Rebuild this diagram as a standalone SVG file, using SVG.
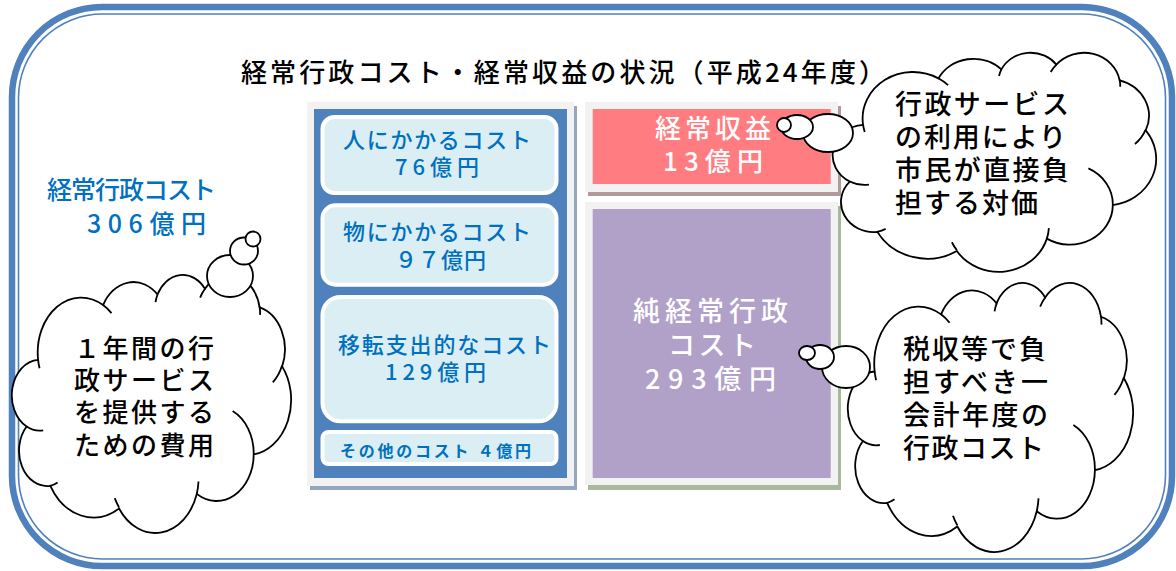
<svg xmlns="http://www.w3.org/2000/svg" width="1176" height="571" viewBox="0 0 1176 571">
<style>
text { font-family: "Noto Sans CJK JP", "Noto Sans", sans-serif; font-weight: 500; }
.blue { fill: #0070C0; font-size: 22px; }
.wht { fill: #FFFFFF; font-size: 27px; }
.blk { fill: #000000; font-size: 26px; }
.cloud { fill: #FFFFFF; stroke: #000000; stroke-width: 1.8; vector-effect: non-scaling-stroke; }
.crease { fill: none; stroke: #000000; stroke-width: 1.8; vector-effect: non-scaling-stroke; }
.bub { fill: #FFFFFF; stroke: #000000; stroke-width: 1.8; }
.lbox { fill: #DAEEF3; stroke: #FFFFFF; stroke-width: 4; }
.gray { fill: #F2F2F2; }
</style>
<defs>
<path id="cloudBody" class="cloud" d="M3900 14370 A6753 9190 0 0 1 14005 5202 A5333 7267 0 0 1 22458 3435 A4365 5945 0 0 1 29835 2485 A4857 6595 0 0 1 38320 5580 A5333 7273 0 0 1 41820 15464 A6775 9220 0 0 1 37406 30207 A5785 7867 0 0 1 28557 36817 A6752 9215 0 0 1 16481 39268 A7720 10543 0 0 1 5805 35471 A4360 5918 0 0 1 2114 25549 A4345 5945 0 0 1 3900 14370 Z"/>
<path id="cloudCrease" class="crease" d="M4693 26177 A4345 5945 0 0 1 2114 25549 M6928 34899 A4360 5918 0 0 1 5805 35471 M16478 39090 A6752 9215 0 0 1 15814 37529 M28827 34751 A6752 9215 0 0 1 28557 36817 M34129 22954 A5785 7867 0 0 1 37406 30207 M41798 15354 A5333 7273 0 0 1 40372 18140 M38324 5426 A4857 6595 0 0 1 38396 6844 M29078 3952 A4857 6595 0 0 1 29835 2485 M22141 4720 A4365 5945 0 0 1 22458 3435 M14000 5192 A6753 9190 0 0 1 15305 6550 M4127 15789 A6753 9190 0 0 1 3900 14370"/>
</defs>
<rect x="0" y="0" width="1176" height="571" fill="#FFFFFF"/>
<g id="frame">
<rect x="12" y="7" width="1160" height="559" rx="90" fill="#FFFFFF" stroke="#4F81BD" stroke-width="6.5"/>
<rect x="18.5" y="14" width="1147" height="545" rx="84" fill="none" stroke="#4F81BD" stroke-width="1.6"/>
</g>
<g id="title">
<text class="blk" x="241" y="82" textLength="644" lengthAdjust="spacing">経常行政コスト・経常収益の状況（平成24年度）</text>
</g>
<g id="total-cost">
<text class="blue" style="font-size:25px"><tspan x="47" y="199" textLength="169" lengthAdjust="spacing">経常行政コスト</tspan><tspan x="87" y="233" textLength="119" lengthAdjust="spacing">306億円</tspan></text>
</g>
<g id="cost-panel">
<rect x="310" y="106" width="267" height="384" fill="#95A7BF"/>
<rect class="gray" x="307" y="102" width="267" height="384"/>
<rect x="314" y="109" width="253" height="369" fill="#4F81BD"/>
<g id="personnel-cost">
<rect class="lbox" x="322.5" y="117" width="234" height="76" rx="12"/>
<text class="blue"><tspan x="343" y="148" textLength="188" lengthAdjust="spacing">人にかかるコスト</tspan><tspan x="395" y="175" textLength="84" lengthAdjust="spacing">76億円</tspan></text>
</g>
<g id="goods-cost">
<rect class="lbox" x="322.5" y="205.3" width="234" height="79.4" rx="13"/>
<text class="blue"><tspan x="343" y="240" textLength="188" lengthAdjust="spacing">物にかかるコスト</tspan><tspan x="395" y="268" textLength="91" lengthAdjust="spacing">９７億円</tspan></text>
</g>
<g id="transfer-cost">
<rect class="lbox" x="322.5" y="297" width="234" height="124.3" rx="18"/>
<text class="blue"><tspan x="338" y="353" textLength="213" lengthAdjust="spacing">移転支出的なコスト</tspan><tspan x="385" y="380" textLength="101" lengthAdjust="spacing">129億円</tspan></text>
</g>
<g id="other-cost">
<rect class="lbox" x="322.5" y="432" width="234" height="32" rx="6"/>
<text class="blue" x="340" y="457" style="font-size:16px;font-weight:bold" textLength="191" lengthAdjust="spacing">その他のコスト ４億円</text>
</g>
</g>
<g id="revenue">
<rect x="588" y="106" width="253" height="90" fill="#B39A9A"/>
<rect class="gray" x="585" y="102" width="253" height="90"/>
<rect x="592.7" y="109" width="238" height="75" fill="#FF7C80"/>
<text class="wht" style="font-size:26px"><tspan x="655" y="138" textLength="116" lengthAdjust="spacing">経常収益</tspan><tspan x="663" y="171" textLength="100" lengthAdjust="spacing">13億円</tspan></text>
</g>
<g id="net-cost">
<rect x="588" y="206" width="253" height="284" fill="#A9B79A"/>
<rect class="gray" x="585" y="202" width="253" height="283"/>
<rect x="592.7" y="209" width="238" height="269" fill="#B1A0C7"/>
<text class="wht"><tspan x="633" y="321" textLength="155" lengthAdjust="spacing">純経常行政</tspan><tspan x="668" y="355" textLength="88" lengthAdjust="spacing">コスト</tspan><tspan x="645" y="389" textLength="131" lengthAdjust="spacing">293億円</tspan></text>
</g>
<g id="cloud-annual-cost">
<g transform="translate(13 274) scale(0.0064352 0.0059722)">
<use href="#cloudBody"/>
<use href="#cloudCrease"/>
</g>
<text class="blk"><tspan x="74" y="358" textLength="140" lengthAdjust="spacing">１年間の行</tspan><tspan x="74" y="390" textLength="140" lengthAdjust="spacing">政サービス</tspan><tspan x="74" y="422" textLength="140" lengthAdjust="spacing">を提供する</tspan><tspan x="74" y="455" textLength="140" lengthAdjust="spacing">ための費用</tspan></text>
</g>
<g id="cloud-user-charge">
<g transform="translate(834 52) scale(0.0074537 0.0050694)">
<use href="#cloudBody"/>
<use href="#cloudCrease"/>
</g>
<text class="blk" style="font-size:27px"><tspan x="895" y="114" textLength="174" lengthAdjust="spacing">行政サービス</tspan><tspan x="895" y="147" textLength="171" lengthAdjust="spacing">の利用により</tspan><tspan x="895" y="180" textLength="174" lengthAdjust="spacing">市民が直接負</tspan><tspan x="895" y="213" textLength="143" lengthAdjust="spacing">担する対価</tspan></text>
</g>
<g id="cloud-tax-burden">
<g transform="translate(849 282) scale(0.0065741 0.0062269)">
<use href="#cloudBody"/>
<use href="#cloudCrease"/>
</g>
<text class="blk" style="font-size:27px"><tspan x="903" y="359" textLength="143" lengthAdjust="spacing">税収等で負</tspan><tspan x="903" y="392" textLength="145" lengthAdjust="spacing">担すべき一</tspan><tspan x="903" y="425" textLength="145" lengthAdjust="spacing">会計年度の</tspan><tspan x="903" y="458" textLength="141" lengthAdjust="spacing">行政コスト</tspan></text>
</g>
<g id="connectors">
<ellipse class="bub" cx="230" cy="276" rx="23" ry="21"/>
<ellipse class="bub" cx="244" cy="251" rx="14" ry="13.5"/>
<ellipse class="bub" cx="253" cy="239" rx="7.5" ry="7.5"/>
<ellipse class="bub" cx="828" cy="133" rx="25" ry="19"/>
<ellipse class="bub" cx="797" cy="127" rx="16" ry="12"/>
<ellipse class="bub" cx="784" cy="125" rx="7" ry="7"/>
<ellipse class="bub" cx="846" cy="367" rx="24" ry="21"/>
<ellipse class="bub" cx="820" cy="357" rx="14" ry="12"/>
<ellipse class="bub" cx="807" cy="353" rx="8" ry="7"/>
</g>
</svg>
